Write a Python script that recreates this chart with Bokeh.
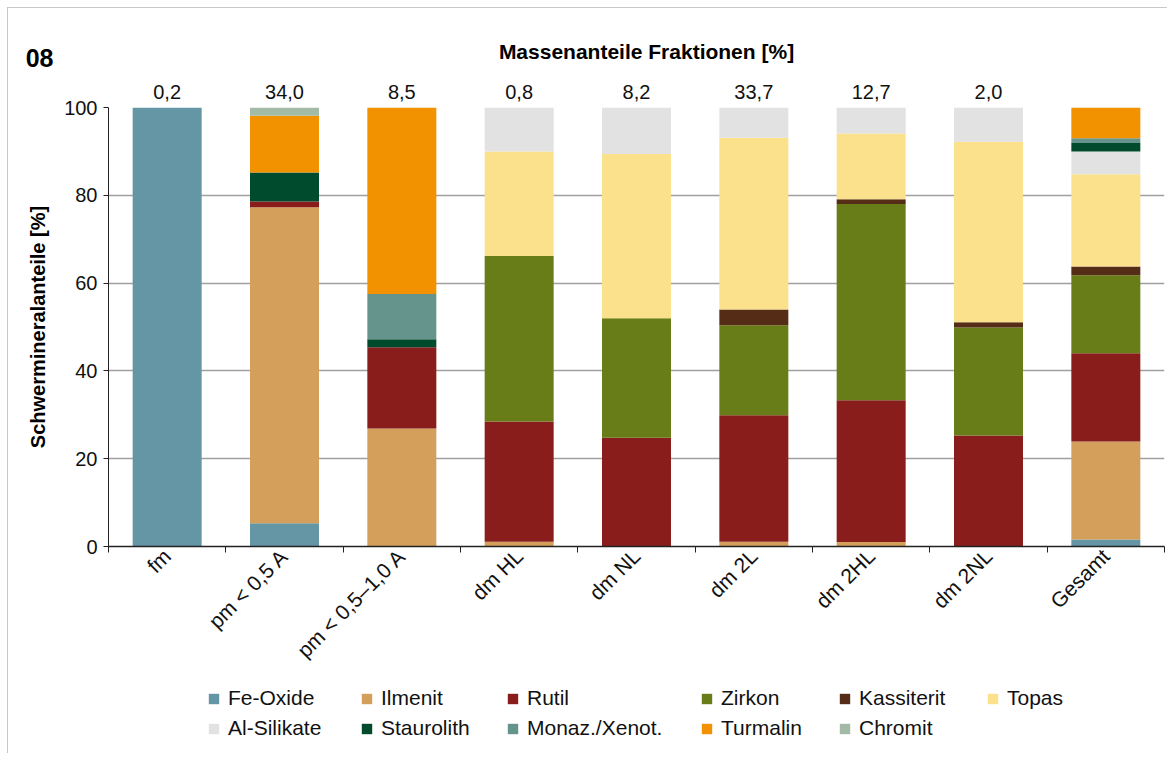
import math
from bokeh.plotting import figure
from bokeh.layouts import column
from bokeh.models import (ColumnDataSource, Range1d, FixedTicker, Legend, LegendItem,
                          LinearAxis, Label)
from bokeh.embed import file_html
from bokeh.resources import INLINE

# ---------------- data ----------------
categories = ["fm", "pm < 0,5 A", "pm < 0,5–1,0 A", "dm HL", "dm NL",
              "dm 2L", "dm 2HL", "dm 2NL", "Gesamt"]
mass_share = ["0,2", "34,0", "8,5", "0,8", "8,2", "33,7", "12,7", "2,0", ""]

fe_oxide    = [100.0, 5.3, 0.0, 0.0, 0.0, 0.0, 0.0, 0.0, 1.6]
ilmenit     = [0.0, 72.0, 26.9, 1.1, 0.0, 1.1, 1.0, 0.0, 22.3]
rutil       = [0.0, 1.3, 18.5, 27.4, 24.8, 28.8, 32.3, 25.3, 20.1]
zirkon      = [0.0, 0.0, 0.0, 37.7, 27.2, 20.5, 44.7, 24.6, 17.8]
kassiterit  = [0.0, 0.0, 0.0, 0.0, 0.0, 3.6, 1.1, 1.2, 2.0]
topas       = [0.0, 0.0, 0.0, 23.8, 37.4, 39.1, 15.0, 41.1, 21.0]
al_silikate = [0.0, 0.0, 0.0, 10.0, 10.6, 6.9, 5.9, 7.8, 5.2]
staurolith  = [0.0, 6.6, 1.8, 0.0, 0.0, 0.0, 0.0, 0.0, 1.9]
monazit     = [0.0, 0.0, 10.3, 0.0, 0.0, 0.0, 0.0, 0.0, 1.1]
turmalin    = [0.0, 12.9, 42.5, 0.0, 0.0, 0.0, 0.0, 0.0, 7.0]
chromit     = [0.0, 1.9, 0.0, 0.0, 0.0, 0.0, 0.0, 0.0, 0.0]

series_names = ["Fe-Oxide", "Ilmenit", "Rutil", "Zirkon", "Kassiterit", "Topas",
                "Al-Silikate", "Staurolith", "Monaz./Xenot.", "Turmalin", "Chromit"]
series_values = [fe_oxide, ilmenit, rutil, zirkon, kassiterit, topas,
                 al_silikate, staurolith, monazit, turmalin, chromit]
colors = ["#6596A6", "#D39F5A", "#891D1C", "#687D17", "#552D17", "#FCE18C",
          "#E2E2E2", "#004A2D", "#65948D", "#F39200", "#A2BAA6"]

chart_title = "Massenanteile Fraktionen [%]"
panel_number = "08"
y_title = "Schwermineralanteile [%]"

FONT = "Liberation Sans"
W = 1160
FRAME_L, FRAME_R = 108, 1164   # page pixels of the (aligned) plot frames

# ---------------- header (panel number + title) ----------------
H0 = 64
p0 = figure(width=W, height=H0, output_backend="svg", toolbar_location=None,
            x_range=Range1d(FRAME_L, FRAME_R), y_range=Range1d(0, H0),
            x_axis_location=None, min_border=0)
p0.outline_line_color = None
p0.grid.grid_line_color = None
p0.yaxis.ticker = FixedTicker(ticks=[14.5])
p0.yaxis.major_label_overrides = {14.5: panel_number}
p0.yaxis.axis_line_color = None
p0.yaxis.major_tick_line_color = None
p0.yaxis.minor_tick_line_color = None
p0.yaxis.major_tick_out = 0
p0.yaxis.major_tick_in = 0
p0.yaxis.major_label_standoff = 55
p0.yaxis.major_label_text_font = FONT
p0.yaxis.major_label_text_font_size = "25px"
p0.yaxis.major_label_text_font_style = "bold"
p0.yaxis.major_label_text_color = "#000000"
p0.add_layout(Label(x=646, y=21, text=chart_title, text_align="center",
                    text_baseline="middle", text_font=FONT, text_font_size="21px",
                    text_font_style="bold", text_color="#000000"))

# ---------------- main chart ----------------
x_pos = [i + 0.5 for i in range(len(categories))]
data = {"x": x_pos}
keys = []
for i, vals in enumerate(series_values):
    k = f"s{i}"
    keys.append(k)
    data[k] = vals
source = ColumnDataSource(data)

H1 = 612
p = figure(width=W, height=H1, output_backend="svg", toolbar_location=None,
           x_range=Range1d(0, len(categories)), y_range=Range1d(0, 100),
           min_border_left=100, min_border_right=4, min_border_top=35,
           min_border_bottom=H1 - 35 - 439)
p.outline_line_color = None

renderers = p.vbar_stack(keys, x="x", width=0.588, source=source,
                         fill_color=colors, line_color=None)

p.xgrid.grid_line_color = None
p.ygrid.grid_line_color = "#a0a0a0"
p.ygrid.grid_line_width = 1.5
p.yaxis.ticker = FixedTicker(ticks=[0, 20, 40, 60, 80, 100])
p.yaxis.axis_line_color = "#222222"
p.yaxis.major_tick_line_color = "#222222"
p.yaxis.major_tick_out = 5
p.yaxis.major_tick_in = 0
p.yaxis.minor_tick_line_color = None
p.yaxis.major_label_text_font = FONT
p.yaxis.major_label_text_font_size = "20px"
p.yaxis.major_label_text_color = "#111111"
p.yaxis.major_label_standoff = 6
p.yaxis.axis_label = y_title
p.yaxis.axis_label_text_font = FONT
p.yaxis.axis_label_text_font_size = "20px"
p.yaxis.axis_label_text_font_style = "bold"
p.yaxis.axis_label_text_color = "#000000"
p.yaxis.axis_label_standoff = 12

p.xaxis.ticker = FixedTicker(ticks=x_pos, minor_ticks=list(range(len(categories) + 1)))
p.xaxis.major_label_overrides = {x: c for x, c in zip(x_pos, categories)}
p.xaxis.major_tick_line_color = None
p.xaxis.minor_tick_line_color = "#222222"
p.xaxis.minor_tick_out = 6
p.xaxis.minor_tick_in = 0
p.xaxis.axis_line_color = "#222222"
p.xaxis.axis_line_width = 1.5
p.xaxis.major_label_orientation = math.pi / 4
p.xaxis.major_label_text_font = FONT
p.xaxis.major_label_text_font_size = "21px"
p.xaxis.major_label_text_color = "#111111"
p.xaxis.major_label_standoff = 0

# mass shares of the fractions, above each bar
top_axis = LinearAxis(ticker=FixedTicker(ticks=x_pos),
                      major_label_overrides={x: s for x, s in zip(x_pos, mass_share)},
                      axis_line_color=None, major_tick_line_color=None,
                      minor_tick_line_color=None, major_tick_out=0, major_tick_in=0,
                      major_label_standoff=9, major_label_text_font=FONT,
                      major_label_text_font_size="20px", major_label_text_color="#111111")
p.add_layout(top_axis, "above")

# ---------------- legend strip ----------------
H2 = 70
p2 = figure(width=W, height=H2, output_backend="svg", toolbar_location=None,
            x_range=Range1d(FRAME_L, FRAME_R), y_range=Range1d(1000, 1000 + H2),
            x_axis_location=None, y_axis_location=None, min_border=0)
p2.outline_line_color = None
p2.grid.grid_line_color = None
# swatch renderers bound to the same data (their bars fall outside this strip's ranges)
swatches = p2.vbar_stack(keys, x="x", width=0, source=source,
                         fill_color=colors, line_color=None)

columns = [[0, 6], [1, 7], [2, 8], [3, 9], [4, 10], [5]]
col_x = [99, 252, 398, 592, 730, 878]
for cx, idxs in zip(col_x, columns):
    items = [LegendItem(label=series_names[i], renderers=[swatches[i]]) for i in idxs]
    y0 = 14 if len(idxs) == 2 else 44
    lg = Legend(items=items, location=(cx, y0), orientation="vertical",
                glyph_width=13, glyph_height=13, label_standoff=8, spacing=6,
                padding=0, margin=0, border_line_color=None,
                background_fill_alpha=0, label_text_font=FONT,
                label_text_font_size="21px", label_text_color="#111111",
                label_height=20)
    p2.add_layout(lg)

layout = column(p0, p, p2, spacing=0)
layout.styles = {"margin-left": "8px", "margin-top": "8px",
                 "box-shadow": "-1px -1px 0 #c8c8c8"}

open("out.html", "w").write(file_html(layout, INLINE))
